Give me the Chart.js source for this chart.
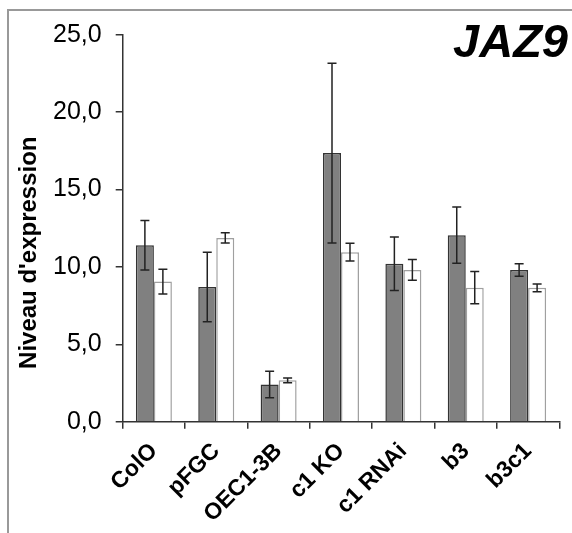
<!DOCTYPE html>
<html>
<head>
<meta charset="utf-8">
<script src="https://cdn.jsdelivr.net/npm/chart.js@4/dist/chart.umd.min.js"></script>
<style>
  html, body { margin: 0; padding: 0; background: #fff; }
  #wrap { position: relative; width: 572px; height: 533px; overflow: hidden; }
  #frame { position: absolute; left: 7px; top: 9px; width: 700px; height: 700px;
           border-top: 2px solid #999; border-left: 2px solid #999; }
  canvas { position: absolute; left: 0; top: 0; }
</style>
</head>
<body>
<div id="wrap">
  <div id="frame"></div>
  <canvas id="c" width="572" height="533"></canvas>
</div>
<script>
const categories = ["ColO", "pFGC", "OEC1-3B", "c1 KO", "c1 RNAi", "b3", "b3c1"];
const darkValues = [11.4, 8.7, 2.4, 17.35, 10.2, 12.05, 9.8];
const darkErrors = [1.6, 2.24, 0.86, 5.8, 1.73, 1.82, 0.41];
const whiteValues = [9.05, 11.87, 2.67, 10.95, 9.8, 8.66, 8.65];
const whiteErrors = [0.8, 0.33, 0.16, 0.57, 0.67, 1.04, 0.25];
const yTicks = [0, 5, 10, 15, 20, 25];
const chartTitle = "JAZ9";
const yTitle = "Niveau d'expression";

const FONT = "'Liberation Sans', Arial, sans-serif";

const errorBars = {
  id: 'errorBars',
  afterDatasetsDraw(chart) {
    const ctx = chart.ctx;
    const y = chart.scales.y;
    ctx.save();
    ctx.strokeStyle = '#222';
    ctx.lineWidth = 1.5;
    chart.data.datasets.forEach((ds, i) => {
      const meta = chart.getDatasetMeta(i);
      meta.data.forEach((el, j) => {
        const v = ds.data[j], e = ds.errors[j];
        const yt = y.getPixelForValue(v + e);
        const yb = y.getPixelForValue(v - e);
        const x = el.x, cw = 4.5;
        ctx.beginPath();
        ctx.moveTo(x, yt); ctx.lineTo(x, yb);
        ctx.moveTo(x - cw, yt); ctx.lineTo(x + cw, yt);
        ctx.moveTo(x - cw, yb); ctx.lineTo(x + cw, yb);
        ctx.stroke();
      });
    });
    ctx.restore();
  }
};

const texts = {
  id: 'texts',
  afterDraw(chart) {
    const ctx = chart.ctx;
    const y = chart.scales.y;
    ctx.save();
    ctx.font = "italic bold 47px " + FONT;
    ctx.fillStyle = '#000';
    ctx.textAlign = 'right';
    ctx.textBaseline = 'alphabetic';
    ctx.fillText(chartTitle, 568, 57);
    // y-axis title
    ctx.translate(36, (y.top + y.bottom) / 2 + 24.5);
    ctx.rotate(-Math.PI / 2);
    ctx.font = "bold 24px " + FONT;
    ctx.textAlign = 'center';
    ctx.fillText(yTitle, 0, 0);
    ctx.restore();
  }
};

new Chart(document.getElementById('c'), {
  type: 'bar',
  data: {
    labels: categories,
    datasets: [
      { data: darkValues, errors: darkErrors, backgroundColor: '#808080',
        borderColor: '#333', borderWidth: 1.5 },
      { data: whiteValues, errors: whiteErrors, backgroundColor: '#ffffff',
        borderColor: '#a0a0a0', borderWidth: 1.5 }
    ]
  },
  options: {
    responsive: false,
    animation: false,
    devicePixelRatio: 1,
    layout: { padding: { left: 0, right: 12.7, top: 34.7, bottom: 0 } },
    datasets: { bar: { categoryPercentage: 0.577, barPercentage: 1.0 } },
    plugins: { legend: { display: false }, tooltip: { enabled: false }, title: { display: false } },
    scales: {
      x: {
        afterFit(s) { s.height = 111.3; },
        grid: { drawOnChartArea: false, drawTicks: true, tickLength: 7, color: '#333', lineWidth: 1.5, offset: true },
        border: { display: true, color: '#333', width: 1.5 },
        ticks: { color: '#000', maxRotation: 45, minRotation: 45, padding: 9,
                 font: { family: FONT, size: 23, weight: 'bold' } }
      },
      y: {
        min: 0, max: 25,
        afterFit(s) { s.width = 122.7; },
        afterBuildTicks(s) { s.ticks = yTicks.map(v => ({ value: v })); },
        grid: { drawOnChartArea: false, drawTicks: true, tickLength: 7, color: '#333', lineWidth: 1.5 },
        border: { display: true, color: '#333', width: 1.5 },
        ticks: { color: '#000', padding: 14,
                 font: { family: FONT, size: 25 },
                 callback: v => v.toFixed(1).replace('.', ',') }
      }
    }
  },
  plugins: [errorBars, texts]
});
</script>
</body>
</html>
